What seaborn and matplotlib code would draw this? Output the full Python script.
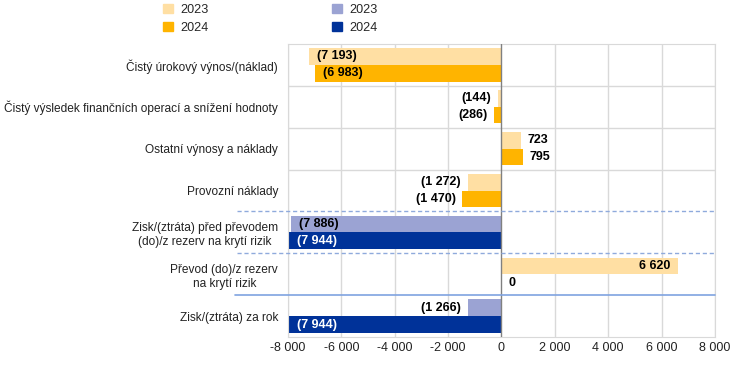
import numpy as np
import pandas as pd
import matplotlib
matplotlib.use("Agg")
import matplotlib.pyplot as plt
import matplotlib.patches as mpatches
import matplotlib.transforms as mtransforms
from matplotlib.ticker import FuncFormatter
from matplotlib import font_manager
import seaborn as sns

categories = [
    "Čistý úrokový výnos/(náklad)",
    "Čistý výsledek finančních operací a snížení hodnoty",
    "Ostatní výnosy a náklady",
    "Provozní náklady",
    "Zisk/(ztráta) před převodem\n(do)/z rezerv na krytí rizik",
    "Převod (do)/z rezerv\nna krytí rizik",
    "Zisk/(ztráta) za rok",
]
years = ["2023", "2024"]
values_2023 = [-7193, -144, 723, -1272, -7886, 6620, -1266]
values_2024 = [-6983, -286, 795, -1470, -7944, 0, -7944]
blue_rows = [4, 6]

orange = {"2023": "#FFDFA3", "2024": "#FFB400"}
blue = {"2023": "#9BA3D3", "2024": "#003299"}

sns.set_style("white")
plt.rcParams["font.family"] = ["Liberation Sans", "DejaVu Sans"]
names = {f.name for f in font_manager.fontManager.ttflist}
narrow = "Liberation Sans Narrow" in names
print("narrow available:", narrow)
label_family = ["Liberation Sans Narrow", "Liberation Sans"] if narrow else ["Liberation Sans"]
label_size = 9.5 if narrow else 8.6

df = pd.DataFrame({
    "cat": categories * 2,
    "year": [years[0]] * len(categories) + [years[1]] * len(categories),
    "value": values_2023 + values_2024,
})

fig = plt.figure(figsize=(7.44, 3.66), dpi=100)
ax = fig.add_axes([0.387, 0.079, 0.574, 0.801])

sns.barplot(data=df, y="cat", x="value", hue="year", orient="h",
            palette=orange, width=0.8, ax=ax, legend=False, saturation=1)


def fmt(v):
    s = f"{abs(int(v)):,}".replace(",", " ")
    return f"({s})" if v < 0 else s


for cont, yr in zip(ax.containers, years):
    vals = values_2023 if yr == "2023" else values_2024
    for i, (bar, v) in enumerate(zip(cont, vals)):
        is_blue = i in blue_rows
        bar.set_facecolor(blue[yr] if is_blue else orange[yr])
        bar.set_edgecolor("none")
        yc = bar.get_y() + bar.get_height() / 2
        txt_color = "white" if (is_blue and yr == "2024") else "black"
        if abs(v) > 5000:
            if v < 0:
                ax.text(v + 300, yc, fmt(v), ha="left", va="center",
                        fontsize=9, fontweight="bold", color=txt_color)
            else:
                ax.text(v - 300, yc, fmt(v), ha="right", va="center",
                        fontsize=9, fontweight="bold", color=txt_color)
        elif v < 0:
            ax.text(v - 250, yc, fmt(v), ha="right", va="center",
                    fontsize=9, fontweight="bold", color="black")
        else:
            ax.text(v + 250, yc, fmt(v), ha="left", va="center",
                    fontsize=9, fontweight="bold", color="black")

ax.set_xlim(-8000, 8000)
ax.set_ylim(6.5, -0.5)
ax.set_xticks(np.arange(-8000, 8001, 2000))
ax.xaxis.set_major_formatter(FuncFormatter(lambda v, p: f"{int(v):,}".replace(",", " ")))
ax.set_xlabel("")
ax.set_ylabel("")
ax.tick_params(axis="both", length=0, labelsize=9, colors="#222222")
ax.tick_params(axis="y", pad=7)
for lab in ax.get_yticklabels():
    lab.set_multialignment("center")
    lab.set_family(label_family)
    lab.set_fontsize(label_size)

for x in np.arange(-8000, 8001, 2000):
    if x != 0:
        ax.axvline(x, color="#D9D9D9", lw=1, zorder=0)
ax.axvline(0, color="#808080", lw=1, zorder=3)
for y in [0.5, 1.5, 2.5]:
    ax.axhline(y, color="#D9D9D9", lw=1, zorder=0)
for s in ax.spines.values():
    s.set_color("#D9D9D9")

trans = mtransforms.blended_transform_factory(ax.transAxes, ax.transData)
x0 = (237 - 288) / (715 - 288)
for y in [3.5, 4.5]:
    ax.plot([x0, 1], [y, y], transform=trans, color="#8FAADC", lw=1,
            ls=(0, (3, 2)), clip_on=False, zorder=4)
ax.plot([(235 - 288) / (715 - 288), 1], [5.5, 5.5], transform=trans,
        color="#7FA3E0", lw=1.2, clip_on=False, zorder=4)

legend_kw = dict(loc="upper left", frameon=False,
                 prop={"family": label_family, "size": label_size + 0.5},
                 handlelength=0.75, handleheight=0.75, handletextpad=0.6,
                 labelspacing=0.45)
leg1 = fig.legend(handles=[
    mpatches.Patch(color=orange["2023"], label="2023"),
    mpatches.Patch(color=orange["2024"], label="2024"),
], bbox_to_anchor=(0.204, 1.02), **legend_kw)
fig.legend(handles=[
    mpatches.Patch(color=blue["2023"], label="2023"),
    mpatches.Patch(color=blue["2024"], label="2024"),
], bbox_to_anchor=(0.431, 1.02), **legend_kw)

fig.savefig("out.png", dpi=100)
